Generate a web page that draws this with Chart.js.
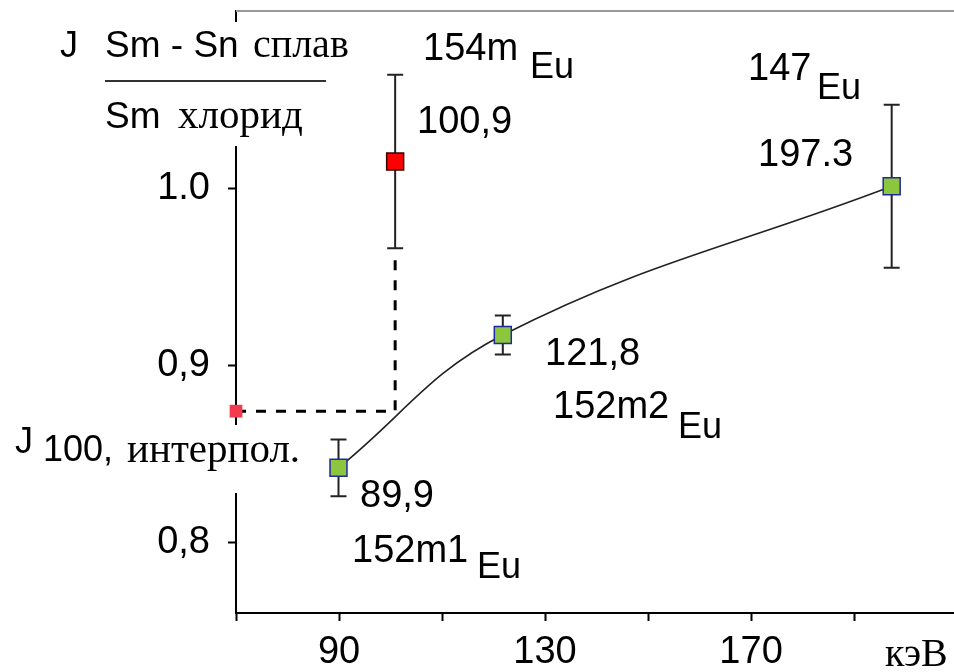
<!DOCTYPE html>
<html>
<head>
<meta charset="utf-8">
<script src="https://cdn.jsdelivr.net/npm/chart.js@4"></script>
<style>
  body { margin: 0; background: #fff; }
  #wrap { width: 954px; height: 672px; }
</style>
</head>
<body>
<div id="wrap"><canvas id="chart" width="954" height="672"></canvas></div>
<script>
// energy (keV) and ratio J(Sm-Sn alloy)/J(Sm chloride)
const energies = [89.9, 121.8, 197.3];
const ratios = [0.842, 0.917, 1.001];
const ratioErrors = [0.016, 0.011, 0.046];

const alloyEnergies = [100.9];
const alloyRatios = [1.015];
const alloyErrors = [0.049];

// interpolated J100, shown on the y axis
const interpEnergies = [70];
const interpRatios = [0.874];

// dashed guide from the axis to 100.9 keV
const guideEnergies = [70, 100.9, 100.9];
const guideRatios = [0.874, 0.874, 0.962];

const xTicks = [70, 90, 110, 130, 150, 170, 190];
const xTickLabels = ['', '90', '', '130', '', '170', ''];
const yTicks = [0.8, 0.9, 1.0];
const yTickLabels = ['0,8', '0,9', '1.0'];

const SANS = '"Liberation Sans", Arial, sans-serif';
const SERIF = '"Liberation Serif", "Times New Roman", serif';

// text around the plot: [text, x, y (baseline), font]
const notes = [
  ['J', 60, 57, '36px ' + SANS],
  ['Sm - Sn', 105, 57, '37px ' + SANS],
  ['сплав', 253, 57, '40px ' + SERIF],
  ['Sm', 105, 128, '37px ' + SANS],
  ['хлорид', 178, 128, '41px ' + SERIF],
  ['154m', 423, 60, '38px ' + SANS],
  ['Eu', 530, 78, '36px ' + SANS],
  ['100,9', 417, 133, '38px ' + SANS],
  ['147', 748, 80, '38px ' + SANS],
  ['Eu', 817, 99, '36px ' + SANS],
  ['197.3', 758, 166, '38px ' + SANS],
  ['121,8', 545, 365, '38px ' + SANS],
  ['152m2', 553, 418, '38px ' + SANS],
  ['Eu', 678, 438, '36px ' + SANS],
  ['89,9', 360, 507, '38px ' + SANS],
  ['152m1', 352, 562, '38px ' + SANS],
  ['Eu', 477, 578, '36px ' + SANS],
  ['J', 15, 453, '36px ' + SANS],
  ['100,', 43, 461, '36px ' + SANS],
  ['интерпол.', 127, 462, '41px ' + SERIF],
  ['кэВ', 885, 666, '40px ' + SERIF]
];

function toPoints(xs, ys) {
  return xs.map((x, i) => ({ x: x, y: ys[i] }));
}

const errorBars = {
  id: 'errorBars',
  beforeDatasetsDraw(chart) {
    const ctx = chart.ctx;
    const xs = chart.scales.x;
    const ys = chart.scales.y;
    const sets = [
      [energies, ratios, ratioErrors],
      [alloyEnergies, alloyRatios, alloyErrors]
    ];
    ctx.save();
    ctx.strokeStyle = '#222';
    ctx.lineWidth = 2;
    sets.forEach(([ex, ey, ee]) => {
      ex.forEach((e, i) => {
        const px = xs.getPixelForValue(e);
        const top = ys.getPixelForValue(ey[i] + ee[i]);
        const bot = ys.getPixelForValue(ey[i] - ee[i]);
        ctx.beginPath();
        ctx.moveTo(px, top); ctx.lineTo(px, bot);
        ctx.moveTo(px - 8, top); ctx.lineTo(px + 8, top);
        ctx.moveTo(px - 8, bot); ctx.lineTo(px + 8, bot);
        ctx.stroke();
      });
    });
    ctx.restore();
  },
  afterDraw(chart) {
    const ctx = chart.ctx;
    const area = chart.chartArea;
    ctx.save();
    // grey frame line on top
    ctx.strokeStyle = '#999';
    ctx.lineWidth = 2;
    ctx.beginPath();
    ctx.moveTo(area.left, area.top);
    ctx.lineTo(area.right, area.top);
    ctx.stroke();
    // text boxes hide the axis behind them
    ctx.fillStyle = '#fff';
    ctx.fillRect(95, 22, 262, 124);
    ctx.fillRect(0, 425, 305, 68);
    // fraction bar
    ctx.strokeStyle = '#333';
    ctx.beginPath();
    ctx.moveTo(105, 81);
    ctx.lineTo(326, 81);
    ctx.stroke();
    ctx.fillStyle = '#000';
    ctx.textAlign = 'left';
    ctx.textBaseline = 'alphabetic';
    notes.forEach(([t, x, y, f]) => {
      ctx.font = f;
      ctx.fillText(t, x, y);
    });
    ctx.restore();
  }
};

function noPad(scale) {
  scale.paddingTop = 0;
  scale.paddingBottom = 0;
  scale.paddingLeft = 0;
  scale.paddingRight = 0;
}

Chart.defaults.color = '#000';
Chart.defaults.font.family = SANS;
Chart.defaults.font.size = 38;

new Chart(document.getElementById('chart'), {
  type: 'scatter',
  data: {
    datasets: [
      {
        data: toPoints(energies, ratios),
        showLine: true,
        tension: 0.4,
        borderColor: '#222',
        borderWidth: 1.6,
        pointRadius: 0,
        order: 5
      },
      {
        data: toPoints(guideEnergies, guideRatios),
        showLine: true,
        tension: 0,
        borderColor: '#000',
        borderWidth: 3,
        borderDash: [10, 10],
        pointRadius: 0,
        clip: false,
        order: 4
      },
      {
        data: toPoints(energies, ratios),
        pointStyle: 'rect',
        pointRadius: 12,
        backgroundColor: '#8cc63f',
        borderColor: '#1f2a9c',
        borderWidth: 1.5,
        order: 1
      },
      {
        data: toPoints(alloyEnergies, alloyRatios),
        pointStyle: 'rect',
        pointRadius: 12,
        backgroundColor: '#ff0000',
        borderColor: '#3a0000',
        borderWidth: 1.5,
        order: 1
      },
      {
        data: toPoints(interpEnergies, interpRatios),
        pointStyle: 'rect',
        pointRadius: 9,
        backgroundColor: '#f23b4c',
        borderWidth: 0,
        clip: false,
        order: 1
      }
    ]
  },
  options: {
    responsive: false,
    animation: false,
    layout: { autoPadding: false, padding: { top: 11, left: 0, right: 0, bottom: 0 } },
    plugins: { legend: { display: false }, tooltip: { enabled: false } },
    scales: {
      x: {
        type: 'linear',
        min: 70,
        max: 209.4,
        afterBuildTicks: s => { s.ticks = xTicks.map(v => ({ value: v })); },
        afterFit: s => { s.height = 59; noPad(s); },
        ticks: {
          padding: 9,
          maxRotation: 0,
          autoSkip: false,
          callback: (v, i) => xTickLabels[i]
        },
        grid: { drawOnChartArea: false, tickLength: 8, tickColor: '#000', tickWidth: 2 },
        border: { color: '#000', width: 2 }
      },
      y: {
        min: 0.76,
        max: 1.1,
        afterBuildTicks: s => { s.ticks = yTicks.map(v => ({ value: v })); },
        afterFit: s => { s.width = 236; noPad(s); },
        ticks: {
          padding: 18,
          autoSkip: false,
          callback: (v, i) => yTickLabels[i]
        },
        grid: { drawOnChartArea: false, tickLength: 8, tickColor: '#000', tickWidth: 2 },
        border: { color: '#000', width: 2 }
      }
    }
  },
  plugins: [errorBars]
});
</script>
</body>
</html>
